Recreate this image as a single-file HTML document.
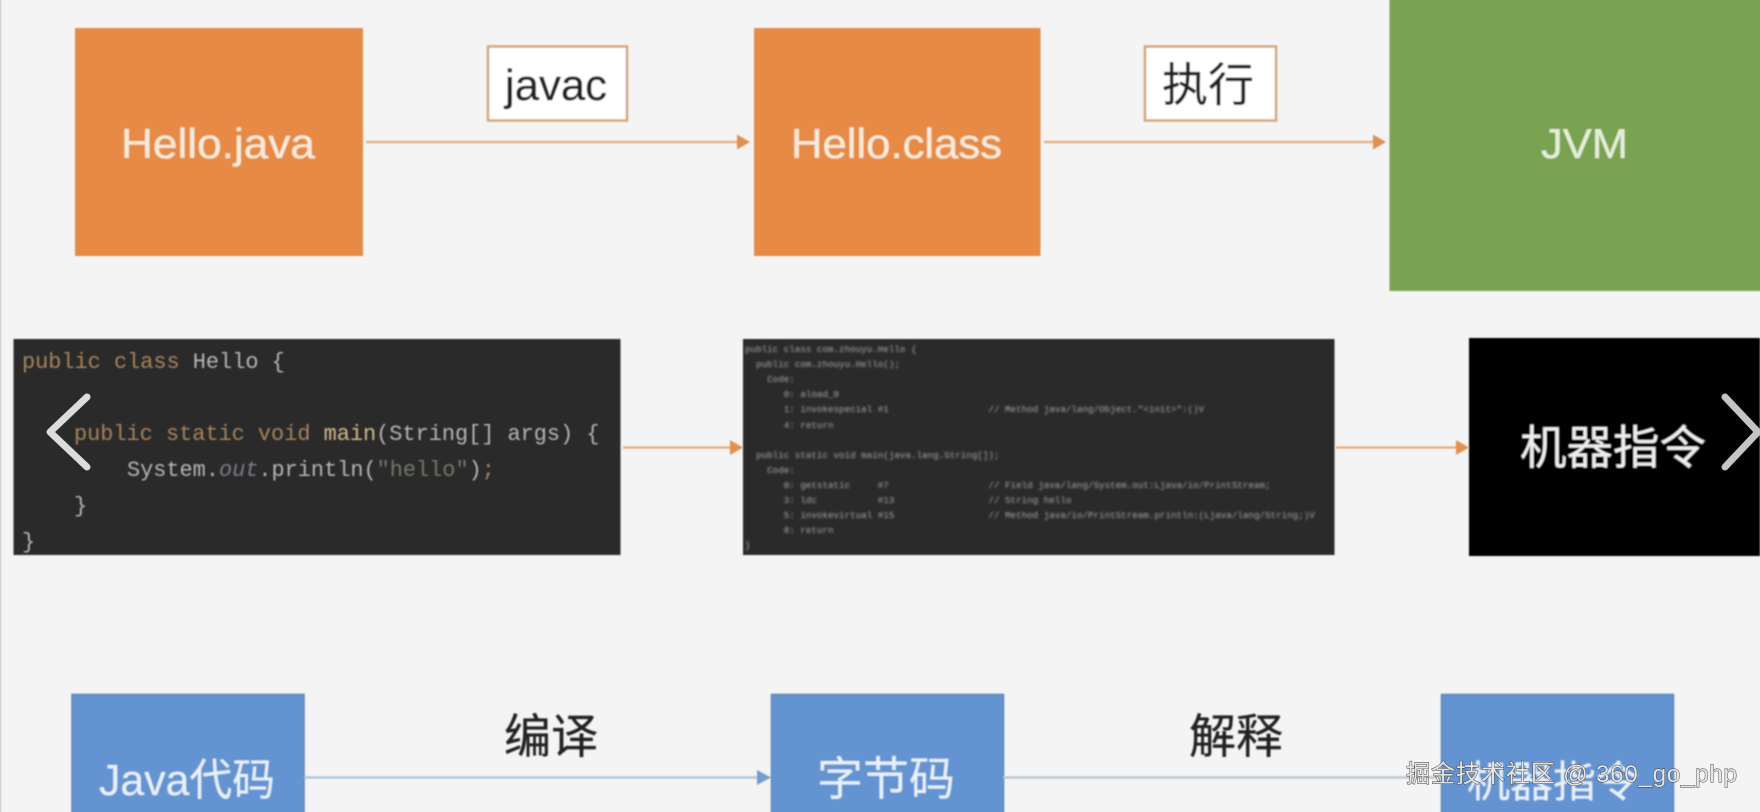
<!DOCTYPE html>
<html lang="zh">
<head>
<meta charset="utf-8">
<title>Java execution diagram</title>
<style>
html,body{margin:0;padding:0;background:#f4f4f4;width:1760px;height:812px;overflow:hidden}
svg{display:block;position:absolute;left:0;top:0}
text{font-family:"Liberation Sans","Noto Sans CJK SC",sans-serif}
.m{font-family:"Liberation Mono",monospace;white-space:pre}
</style>
</head>
<body>
<svg width="1760" height="812" viewBox="0 0 1760 812" xmlns="http://www.w3.org/2000/svg">
<defs>
<filter id="b1" x="-5%" y="-5%" width="110%" height="110%"><feGaussianBlur stdDeviation="0.7"/></filter>
<filter id="b2" x="-5%" y="-5%" width="110%" height="110%"><feGaussianBlur stdDeviation="1.1"/></filter>
</defs>
<rect width="1760" height="812" fill="#f4f4f4"/>
<rect x="0" y="0" width="1.5" height="812" fill="#d4d4d4"/>

<g filter="url(#b1)">
<!-- row 1 -->
<rect x="75" y="28" width="288" height="228" fill="#e68a45"/>
<rect x="754" y="28" width="286.5" height="228" fill="#e68a45"/>
<rect x="1389.5" y="-4" width="375" height="295" fill="#79a351"/>
<text x="121" y="158" font-size="42" fill="#f8ead9" stroke="#f8ead9" stroke-width="0.3" textLength="194" lengthAdjust="spacingAndGlyphs">Hello.java</text>
<text x="791" y="158" font-size="42" fill="#f8ead9" stroke="#f8ead9" stroke-width="0.3" textLength="211" lengthAdjust="spacingAndGlyphs">Hello.class</text>
<text x="1541" y="158" font-size="42" fill="#e4eed8" stroke="#e4eed8" stroke-width="0.3" textLength="87" lengthAdjust="spacingAndGlyphs">JVM</text>

<rect x="488" y="46.5" width="139" height="74" fill="#fff" stroke="#d4a679" stroke-width="2.5"/>
<rect x="1145" y="46.5" width="131" height="74" fill="#fff" stroke="#d4a679" stroke-width="2.5"/>
<text x="505" y="100" font-size="44" fill="#222" stroke="#222" stroke-width="0.4" textLength="102" lengthAdjust="spacingAndGlyphs">javac</text>
<text x="1162" y="101" font-size="46" fill="#222" stroke="#222" stroke-width="0.3">执行</text>

<line x1="366" y1="142" x2="738" y2="142" stroke="#e5ab7b" stroke-width="2.2"/>
<polygon points="737,134.5 750,142 737,149.5" fill="#e38f4d"/>
<line x1="1044" y1="142" x2="1374" y2="142" stroke="#e5ab7b" stroke-width="2.2"/>
<polygon points="1373,134.5 1386,142 1373,149.5" fill="#e38f4d"/>

<!-- row 2 -->
<rect x="13.5" y="339" width="607" height="216" fill="#2b2b2b"/>
<rect x="743" y="339" width="591.5" height="216" fill="#2b2b2b"/>
<rect x="1469" y="338" width="291" height="218" fill="#000"/>
<text x="1520" y="464" font-size="46.5" fill="#eeeeee">机器指令</text>

<line x1="623" y1="447.5" x2="732" y2="447.5" stroke="#e5ab7b" stroke-width="2.2"/>
<polygon points="730,440 743,447.5 730,455" fill="#e38f4d"/>
<line x1="1336" y1="447.5" x2="1457" y2="447.5" stroke="#e5ab7b" stroke-width="2.2"/>
<polygon points="1456,440 1469,447.5 1456,455" fill="#e38f4d"/>

<!-- row 3 -->
<rect x="72" y="694.5" width="232" height="125" fill="#6494d1" stroke="#5c86ba" stroke-width="1.5"/>
<rect x="771.5" y="694.5" width="232" height="125" fill="#6494d1" stroke="#5c86ba" stroke-width="1.5"/>
<rect x="1441.5" y="694.5" width="232" height="125" fill="#6494d1" stroke="#5c86ba" stroke-width="1.5"/>
<text x="99" y="795" font-size="44" fill="#e8f0fa" textLength="176" lengthAdjust="spacingAndGlyphs">Java代码</text>
<text x="817" y="795" font-size="46" fill="#e8f0fa">字节码</text>
<text x="1467" y="797" font-size="43" fill="#e8f0fa">机器指令</text>

<line x1="304" y1="777.5" x2="760" y2="777.5" stroke="#a8c4de" stroke-width="2.2"/>
<polygon points="757,770 771,777.5 757,785" fill="#6f9fd0"/>
<line x1="1003" y1="777.5" x2="1441" y2="777.5" stroke="#b6c4cf" stroke-width="2.2"/>

<text x="504" y="753" font-size="47" fill="#222" stroke="#222" stroke-width="0.3">编译</text>
<text x="1189" y="753" font-size="47" fill="#222" stroke="#222" stroke-width="0.3">解释</text>
</g>

<!-- code 1 -->
<g font-size="21.9" filter="url(#b1)">
<text class="m" x="22" y="368"><tspan fill="#a9825c">public class </tspan><tspan fill="#b5b5b5">Hello {</tspan></text>
<text class="m" x="74" y="440"><tspan fill="#a9825c">public static void </tspan><tspan fill="#d1ba85">main</tspan><tspan fill="#b5b5b5">(String[] args) {</tspan></text>
<text class="m" x="127" y="476"><tspan fill="#b5b5b5">System.</tspan><tspan fill="#7f7a88" font-style="italic">out</tspan><tspan fill="#b5b5b5">.println(</tspan><tspan fill="#6f7a66">"hello"</tspan><tspan fill="#b5b5b5">)</tspan><tspan fill="#a9825c">;</tspan></text>
<text class="m" x="74" y="512" fill="#b5b5b5">}</text>
<text class="m" x="22" y="548" fill="#b5b5b5">}</text>
</g>

<!-- code 2 -->
<g filter="url(#b2)" font-size="9.22" fill="#a8a8a8">
<text class="m" x="745" y="352">public class com.zhouyu.Hello {</text>
<text class="m" x="745" y="367">  public com.zhouyu.Hello();</text>
<text class="m" x="745" y="382">    Code:</text>
<text class="m" x="745" y="397">       0: aload_0</text>
<text class="m" x="745" y="412">       1: invokespecial #1                  // Method java/lang/Object."&lt;init&gt;":()V</text>
<text class="m" x="745" y="428">       4: return</text>
<text class="m" x="745" y="458">  public static void main(java.lang.String[]);</text>
<text class="m" x="745" y="473">    Code:</text>
<text class="m" x="745" y="488">       0: getstatic     #7                  // Field java/lang/System.out:Ljava/io/PrintStream;</text>
<text class="m" x="745" y="503">       3: ldc           #13                 // String hello</text>
<text class="m" x="745" y="518">       5: invokevirtual #15                 // Method java/io/PrintStream.println:(Ljava/lang/String;)V</text>
<text class="m" x="745" y="533">       8: return</text>
<text class="m" x="745" y="548">}</text>
</g>

<!-- carousel chevrons -->
<polyline points="87,397 50,432 87,467" fill="none" stroke="#dcdcdc" stroke-width="7" stroke-linecap="round" stroke-linejoin="round"/>
<polyline points="1725,397 1758,432 1725,467" fill="none" stroke="#c4c4c4" stroke-width="7" stroke-linecap="round" stroke-linejoin="round"/>

<!-- watermark -->
<text x="1406" y="782" font-size="24.3" fill="#e6e6e6" stroke="#3a3a3a" stroke-width="0.9" paint-order="stroke" xml:space="preserve" textLength="331">掘金技术社区 @ 360_go_php</text>
</svg>
</body>
</html>
